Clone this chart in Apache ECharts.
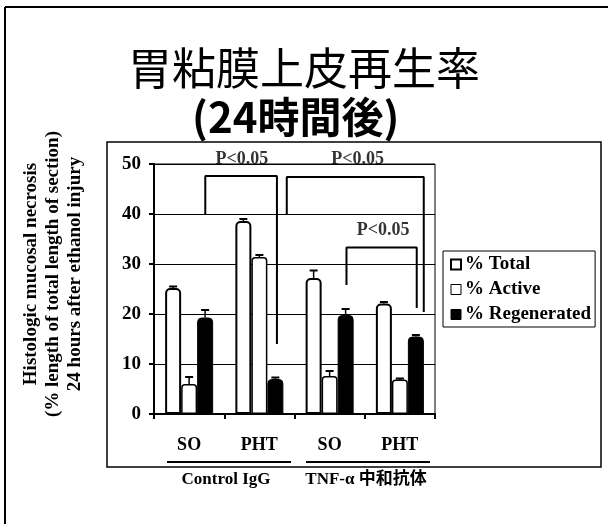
<!DOCTYPE html>
<html>
<head>
<meta charset="utf-8">
<script src="https://cdn.jsdelivr.net/npm/echarts@6/dist/echarts.min.js"></script>
<style>
  html, body { margin: 0; padding: 0; background: #fff; }
  #chart { width: 608px; height: 524px; }
</style>
</head>
<body>
<div id="chart"></div>
<script>
// Gastric mucosal regeneration, 24 h after ethanol injury
const categories = ['SO', 'PHT', 'SO', 'PHT'];
const groupLabels = ['Control IgG', 'TNF-α 中和抗体'];
const seriesNames = ['% Total', '% Active', '% Regenerated'];

const totalValues = [25.2, 38.6, 27.2, 22.1];
const totalErrors = [0.3, 0.4, 1.5, 0.3];
const activeValues = [6.0, 31.4, 7.6, 6.9];
const activeErrors = [1.4, 0.4, 1.0, 0.2];
const regenValues = [19.3, 7.0, 19.8, 15.5];
const regenErrors = [1.5, 0.3, 1.2, 0.3];

const yTicks = [0, 10, 20, 30, 40, 50];

// significance brackets: left leg x, left leg bottom, right leg x, right leg bottom, bar height (x in category units)
const brackets = [
  [0.73, 40, 1.75, 14, 47.6],
  [1.89, 40, 3.84, 20.4, 47.4],
  [2.74, 25.8, 3.74, 21.2, 33.3]
];
// significance labels: x (category units), y, vertical pixel shift, text
const pLabels = [
  [1.25, 50, -5, 'P<0.05'],
  [2.90, 50, -5, 'P<0.05'],
  [3.26, 36.8, 0, 'P<0.05']
];

const SERIF = '"Liberation Serif", "Times New Roman", "Noto Sans CJK JP", serif';
const CJK = '"Noto Sans CJK JP", sans-serif';

const chart = echarts.init(document.getElementById('chart'), null, { renderer: 'canvas' });

const BAR_W = 16;

function errorSeries(values, errors, offset) {
  return {
    type: 'custom',
    xAxisIndex: 0,
    yAxisIndex: 0,
    z: 5,
    silent: true,
    data: values.map((v, i) => [i, v, v + errors[i]]),
    renderItem: function (params, api) {
      const lo = api.coord([api.value(0), api.value(1)]);
      const hi = api.coord([api.value(0), api.value(2)]);
      const x = lo[0] + offset;
      return {
        type: 'group',
        children: [
          { type: 'line', shape: { x1: x, y1: lo[1], x2: x, y2: hi[1] }, style: { stroke: '#000', lineWidth: 1.5 } },
          { type: 'line', shape: { x1: x - 4, y1: hi[1], x2: x + 4, y2: hi[1] }, style: { stroke: '#000', lineWidth: 2 } }
        ]
      };
    }
  };
}

const bracketSeries = brackets.map(b => ({
  type: 'line',
  xAxisIndex: 1,
  yAxisIndex: 0,
  symbol: 'none',
  silent: true,
  z: 6,
  lineStyle: { color: '#000', width: 2 },
  data: [[b[0], b[1]], [b[0], b[4]], [b[2], b[4]], [b[2], b[3]]]
}));

const labelSeries = {
  type: 'scatter',
  xAxisIndex: 1,
  yAxisIndex: 0,
  symbolSize: 1,
  clip: false,
  silent: true,
  z: 7,
  itemStyle: { color: 'rgba(0,0,0,0)' },
  data: pLabels.map(p => ({
    value: [p[0], p[1]],
    name: p[3],
    label: { offset: [0, p[2]] }
  })),
  label: {
    show: true,
    position: 'inside',
    formatter: p => p.name,
    color: '#000',
    fontFamily: SERIF,
    fontWeight: 'bold',
    fontSize: 18
  }
};

const option = {
  animation: false,
  backgroundColor: '#fff',
  grid: {
    left: 154, top: 164, right: 173, bottom: 110,
    show: true, borderColor: '#000', borderWidth: 1
  },
  legend: {
    orient: 'vertical',
    left: 443, top: 251,
    itemWidth: 10, itemHeight: 10, itemGap: 6,
    padding: [4, 4, 3, 7],
    borderColor: '#000', borderWidth: 1,
    backgroundColor: '#fff',
    textStyle: { fontFamily: SERIF, fontWeight: 'bold', fontSize: 19, color: '#000', padding: [0, 0, 0, -1] },
    data: [
      { name: seriesNames[0], icon: 'rect', itemStyle: { color: '#fff', borderColor: '#000', borderWidth: 2 } },
      { name: seriesNames[1], icon: 'rect', itemStyle: { color: '#fff', borderColor: '#000', borderWidth: 1 } },
      { name: seriesNames[2], icon: 'rect', itemStyle: { color: '#000', borderColor: '#000', borderWidth: 1 } }
    ]
  },
  xAxis: [
    {
      type: 'category',
      data: categories,
      boundaryGap: true,
      axisLine: { lineStyle: { color: '#000', width: 2 } },
      axisTick: { show: true, length: 5, lineStyle: { color: '#000', width: 2 } },
      axisLabel: { color: '#000', fontFamily: SERIF, fontWeight: 'bold', fontSize: 18, margin: 22 },
      splitLine: { show: false }
    },
    {
      type: 'value', min: 0, max: 4, show: false
    }
  ],
  yAxis: {
    type: 'value',
    min: yTicks[0], max: yTicks[yTicks.length - 1], interval: 10,
    axisLine: { show: true, lineStyle: { color: '#000', width: 2 } },
    axisTick: { show: true, length: 5, lineStyle: { color: '#000', width: 2 } },
    axisLabel: { color: '#000', fontFamily: SERIF, fontWeight: 'bold', fontSize: 19, margin: 13 },
    splitLine: { show: true, lineStyle: { color: '#000', width: 1 } }
  },
  series: [
    {
      name: seriesNames[0], type: 'bar', data: totalValues,
      barWidth: BAR_W, barGap: '0%', z: 3,
      itemStyle: { color: '#fff', borderColor: '#000', borderWidth: 2, borderRadius: [4, 4, 0, 0] }
    },
    {
      name: seriesNames[1], type: 'bar', data: activeValues,
      barWidth: BAR_W, barGap: '0%', z: 3,
      itemStyle: { color: '#fff', borderColor: '#000', borderWidth: 1.5, borderRadius: [3, 3, 0, 0] }
    },
    {
      name: seriesNames[2], type: 'bar', data: regenValues,
      barWidth: BAR_W, barGap: '0%', z: 3,
      itemStyle: { color: '#000', borderColor: '#000', borderWidth: 1, borderRadius: [4, 4, 0, 0] }
    },
    errorSeries(totalValues, totalErrors, -BAR_W),
    errorSeries(activeValues, activeErrors, 0),
    errorSeries(regenValues, regenErrors, BAR_W),
    ...bracketSeries,
    labelSeries
  ],
  graphic: [
    // outer frame
    { type: 'line', shape: { x1: 5, y1: 7, x2: 608, y2: 7 }, style: { stroke: '#000', lineWidth: 2 }, z: 0 },
    { type: 'line', shape: { x1: 5, y1: 7, x2: 5, y2: 524 }, style: { stroke: '#000', lineWidth: 2 }, z: 0 },
    // chart panel
    { type: 'rect', shape: { x: 107, y: 142, width: 494, height: 325 }, style: { fill: 'none', stroke: '#000', lineWidth: 1.5 }, z: 0 },
    // title
    { type: 'text', left: 'center', top: 46, style: { text: '胃粘膜上皮再生率', font: 'normal 44px ' + CJK, fill: '#000' } },
    { type: 'text', left: 192, top: 96, style: { text: '(24時間後)', font: 'bold 42px ' + CJK, fill: '#000' } },
    // y-axis title
    { type: 'text', x: 31, y: 274, rotation: Math.PI / 2, style: { text: 'Histologic mucosal necrosis', font: 'bold 19px ' + SERIF, fill: '#000', align: 'center', verticalAlign: 'middle' } },
    { type: 'text', x: 53, y: 274, rotation: Math.PI / 2, style: { text: '(% length of total length of section)', font: 'bold 19px ' + SERIF, fill: '#000', align: 'center', verticalAlign: 'middle' } },
    { type: 'text', x: 75, y: 274, rotation: Math.PI / 2, style: { text: '24 hours after ethanol injury', font: 'bold 19px ' + SERIF, fill: '#000', align: 'center', verticalAlign: 'middle' } },
    // group brackets under the categories
    { type: 'line', shape: { x1: 167, y1: 462, x2: 291, y2: 462 }, style: { stroke: '#000', lineWidth: 2 } },
    { type: 'line', shape: { x1: 306, y1: 462, x2: 430, y2: 462 }, style: { stroke: '#000', lineWidth: 2 } },
    { type: 'text', x: 226, y: 480, style: { text: groupLabels[0], font: 'bold 17px ' + SERIF, fill: '#000', align: 'center', verticalAlign: 'middle' } },
    { type: 'text', x: 366, y: 480, style: { text: groupLabels[1], font: 'bold 17px ' + SERIF, fill: '#000', align: 'center', verticalAlign: 'middle' } }
  ]
};

chart.setOption(option);
</script>
</body>
</html>
